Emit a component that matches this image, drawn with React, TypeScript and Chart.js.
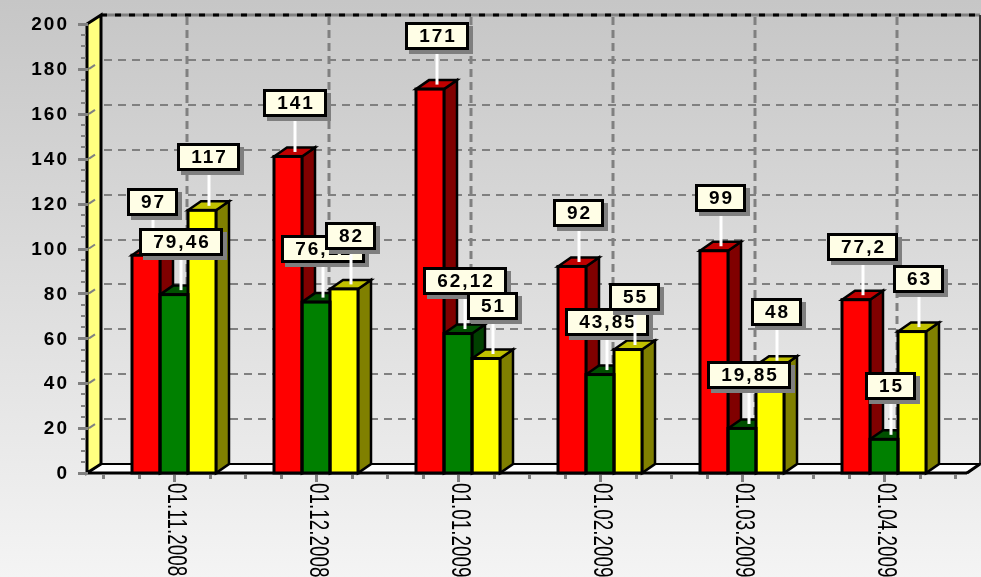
import React, { useEffect, useRef } from "react";
import { Chart, registerables } from "chart.js";

Chart.register(...registerables);

// ---- data ----
const categories = ["01.11.2008", "01.12.2008", "01.01.2009", "01.02.2009", "01.03.2009", "01.04.2009"];
const redValues = [97, 141, 171, 92, 99, 77.2];
const greenValues = [79.46, 76.12, 62.12, 43.85, 19.85, 15];
const yellowValues = [117, 82, 51, 55, 48, 63];
const yTicks = [0, 20, 40, 60, 80, 100, 120, 140, 160, 180, 200];
const yMin = 0;
const yMax = 200;

// ---- styles ----
const DX = 13;
const DY = 9;
const frontColors = ["#ff0000", "#008000", "#ffff00"];
const sideColors = ["#800000", "#004000", "#808000"];
const topColors = ["#c00000", "#005000", "#c0c000"];
const LABEL_FONT = 'bold 19px "Liberation Sans"';

function fmt(v: number) {
  return String(v).replace(".", ",");
}

function poly(ctx: CanvasRenderingContext2D, pts: number[][]) {
  ctx.beginPath();
  ctx.moveTo(pts[0][0], pts[0][1]);
  for (let i = 1; i < pts.length; i++) ctx.lineTo(pts[i][0], pts[i][1]);
  ctx.closePath();
}

function line(ctx: CanvasRenderingContext2D, x1: number, y1: number, x2: number, y2: number) {
  ctx.beginPath();
  ctx.moveTo(x1, y1);
  ctx.lineTo(x2, y2);
  ctx.stroke();
}

function geom(chart: any) {
  const xs = chart.scales.x;
  const ys = chart.scales.y;
  const ca = chart.chartArea;
  const y0 = ys.getPixelForValue(yMin);
  const yT = ys.getPixelForValue(yMax);
  const wallX = ca.left - 16;
  const rightFront = ca.right + 12;
  return { xs, ys, ca, y0, yT, wallX, rightFront, backL: wallX + DX + 1, backR: rightFront + DX };
}

const threeDPlugin = {
  id: "threeD",
  beforeDraw(chart: any) {
    const ctx: CanvasRenderingContext2D = chart.ctx;
    const g = ctx.createLinearGradient(0, 0, 0, chart.height);
    g.addColorStop(0, "#c6c6c6");
    g.addColorStop(1, "#f4f4f4");
    ctx.save();
    ctx.fillStyle = g;
    ctx.fillRect(0, 0, chart.width, chart.height);
    ctx.restore();
  },
  beforeDatasetsDraw(chart: any) {
    const ctx: CanvasRenderingContext2D = chart.ctx;
    const { xs, ys, ca, y0, yT, wallX, rightFront, backL, backR } = geom(chart);
    ctx.save();
    ctx.lineCap = "butt";

    // back wall grid
    ctx.strokeStyle = "#808080";
    ctx.lineWidth = 2;
    ctx.setLineDash([8, 6]);
    for (const v of yTicks) {
      if (v === yMin || v === yMax) continue;
      const y = Math.round(ys.getPixelForValue(v) - DY);
      line(ctx, backL + 3, y, backR - 2, y);
    }
    ctx.lineWidth = 3;
    ctx.setLineDash([8, 5]);
    categories.forEach((_, i) => {
      const x = Math.round(xs.getPixelForValue(i) + DX);
      line(ctx, x, yT - DY + 2, x, y0 - DY);
    });

    // top border
    ctx.setLineDash([]);
    ctx.strokeStyle = "#808080";
    ctx.lineWidth = 3;
    line(ctx, backL, yT - DY, backR, yT - DY);
    ctx.strokeStyle = "#000";
    ctx.setLineDash([6, 8]);
    line(ctx, backL, yT - DY, backR, yT - DY);
    ctx.setLineDash([]);
    ctx.strokeStyle = "#333";
    ctx.lineWidth = 2;
    line(ctx, backR, yT - DY, backR, y0 - DY);

    // floor
    poly(ctx, [[wallX, y0], [rightFront, y0], [backR, y0 - DY], [backL, y0 - DY]]);
    ctx.fillStyle = "#ffffff";
    ctx.fill();
    ctx.strokeStyle = "#000";
    ctx.lineWidth = 2;
    ctx.stroke();
    ctx.lineWidth = 3;
    line(ctx, wallX, y0, rightFront, y0);
    line(ctx, rightFront, y0, backR, y0 - DY);

    // left wall
    poly(ctx, [[wallX, yT], [backL, yT - DY], [backL, y0 - DY], [wallX, y0]]);
    ctx.fillStyle = "#ffff80";
    ctx.fill();
    ctx.strokeStyle = "#000";
    ctx.lineWidth = 3;
    ctx.stroke();
    // wall grid bits
    ctx.strokeStyle = "#808080";
    ctx.lineWidth = 2;
    for (const v of yTicks) {
      if (v === yMin || v === yMax) continue;
      const fy = ys.getPixelForValue(v);
      line(ctx, wallX + 2, fy, wallX + 8, fy - 4);
    }

    // y ticks
    ctx.fillStyle = "#808080";
    for (let v = yMin; v <= yMax; v += 5) {
      const fy = Math.round(ys.getPixelForValue(v));
      if (v % 20 === 0) ctx.fillRect(wallX - 9, fy - 1, 10, 3);
      else ctx.fillRect(wallX - 6, fy - 1, 5, 2);
    }

    // y labels
    ctx.fillStyle = "#000";
    ctx.font = LABEL_FONT;
    (ctx as any).letterSpacing = "2px";
    ctx.textAlign = "right";
    ctx.textBaseline = "middle";
    for (const v of yTicks) {
      ctx.fillText(String(v), wallX - 18, ys.getPixelForValue(v) + 1);
    }
    (ctx as any).letterSpacing = "0px";

    // x ticks
    const cw = (ca.right - ca.left) / categories.length;
    ctx.fillStyle = "#808080";
    categories.forEach((_, i) => {
      const c = xs.getPixelForValue(i);
      for (let k = -2; k <= 1; k++) {
        const tx = Math.round(c + (k * cw) / 4);
        ctx.fillRect(tx - 1, y0 + 2, 3, k === 0 ? 7 : 4);
      }
    });
    ctx.fillRect(Math.round(ca.right) - 1, y0 + 2, 3, 4);

    // x labels (rotated, reading downward)
    ctx.fillStyle = "#000";
    ctx.font = '27px "Liberation Sans"';
    ctx.textAlign = "left";
    ctx.textBaseline = "middle";
    categories.forEach((lab, i) => {
      const c = xs.getPixelForValue(i);
      ctx.save();
      ctx.translate(c + 1, y0 + 10);
      ctx.rotate(Math.PI / 2);
      ctx.scale(0.7, 1);
      ctx.fillText(lab, 0, 0);
      ctx.restore();
    });

    // bar sides and tops
    ctx.lineJoin = "miter";
    ctx.lineWidth = 2.5;
    ctx.strokeStyle = "#000";
    chart.data.datasets.forEach((_: any, di: number) => {
      const meta = chart.getDatasetMeta(di);
      meta.data.forEach((bar: any) => {
        const { x, y, base, width } = bar.getProps(["x", "y", "base", "width"], true);
        const l = x - width / 2;
        const r = x + width / 2;
        poly(ctx, [[r, y], [r + DX, y - DY], [r + DX, base - DY], [r, base]]);
        ctx.fillStyle = sideColors[di];
        ctx.fill();
        ctx.stroke();
        poly(ctx, [[l, y], [l + DX, y - DY], [r + DX, y - DY], [r, y]]);
        ctx.fillStyle = topColors[di];
        ctx.fill();
        ctx.stroke();
      });
    });
    ctx.restore();
  },
  afterDatasetsDraw(chart: any) {
    const ctx: CanvasRenderingContext2D = chart.ctx;
    ctx.save();
    // front outlines
    ctx.strokeStyle = "#000";
    ctx.lineWidth = 3;
    ctx.lineJoin = "miter";
    chart.data.datasets.forEach((_: any, di: number) => {
      const meta = chart.getDatasetMeta(di);
      meta.data.forEach((bar: any) => {
        const { x, y, base, width } = bar.getProps(["x", "y", "base", "width"], true);
        ctx.strokeRect(x - width / 2, y, width, base - y);
      });
    });
    // value labels
    ctx.font = LABEL_FONT;
    (ctx as any).letterSpacing = "2px";
    ctx.textBaseline = "middle";
    ctx.textAlign = "left";
    const H = 28;
    chart.data.datasets.forEach((ds: any, di: number) => {
      const meta = chart.getDatasetMeta(di);
      meta.data.forEach((bar: any, i: number) => {
        const { x, y } = bar.getProps(["x", "y"], true);
        const txt = fmt(ds.data[i]);
        const tw = ctx.measureText(txt).width;
        const W = Math.round(tw + 26);
        const cx = Math.round(x + DX / 2);
        const bottom = Math.round(y - 39);
        const top = bottom - H;
        const bx = cx - Math.round(W / 2);
        // leader line
        ctx.strokeStyle = "#ffffff";
        ctx.lineWidth = 3;
        line(ctx, cx, bottom, cx, y - DY / 2);
        // shadow
        ctx.fillStyle = "#7f7f7f";
        ctx.fillRect(bx + 4, top + 4, W, H);
        // box
        ctx.fillStyle = "#fffee6";
        ctx.fillRect(bx, top, W, H);
        ctx.strokeStyle = "#000";
        ctx.lineWidth = 3;
        ctx.strokeRect(bx + 1.5, top + 1.5, W - 3, H - 3);
        ctx.fillStyle = "#000";
        ctx.fillText(txt, bx + (W - tw) / 2 + 1, top + H / 2 + 1);
      });
    });
    ctx.restore();
  },
};

export default function App() {
  const ref = useRef<HTMLCanvasElement>(null);
  useEffect(() => {
    const canvas = ref.current!;
    const chart = new Chart(canvas, {
      type: "bar",
      data: {
        labels: categories,
        datasets: [
          { label: "red", data: redValues, backgroundColor: frontColors[0], borderWidth: 0 },
          { label: "green", data: greenValues, backgroundColor: frontColors[1], borderWidth: 0 },
          { label: "yellow", data: yellowValues, backgroundColor: frontColors[2], borderWidth: 0 },
        ],
      },
      options: {
        responsive: false,
        animation: false,
        devicePixelRatio: 1,
        layout: { padding: { left: 103, right: 26, top: 24, bottom: 104 } },
        datasets: { bar: { categoryPercentage: 84 / 142, barPercentage: 1 } },
        plugins: { legend: { display: false }, tooltip: { enabled: false } },
        scales: {
          x: { display: false },
          y: { display: false, min: yMin, max: yMax },
        },
      },
      plugins: [threeDPlugin],
    });
    return () => chart.destroy();
  }, []);
  return (
    <div style={{ position: "absolute", left: 0, top: 0, width: 981, height: 577, overflow: "hidden" }}>
      <canvas ref={ref} width={981} height={577} style={{ display: "block" }} />
    </div>
  );
}
